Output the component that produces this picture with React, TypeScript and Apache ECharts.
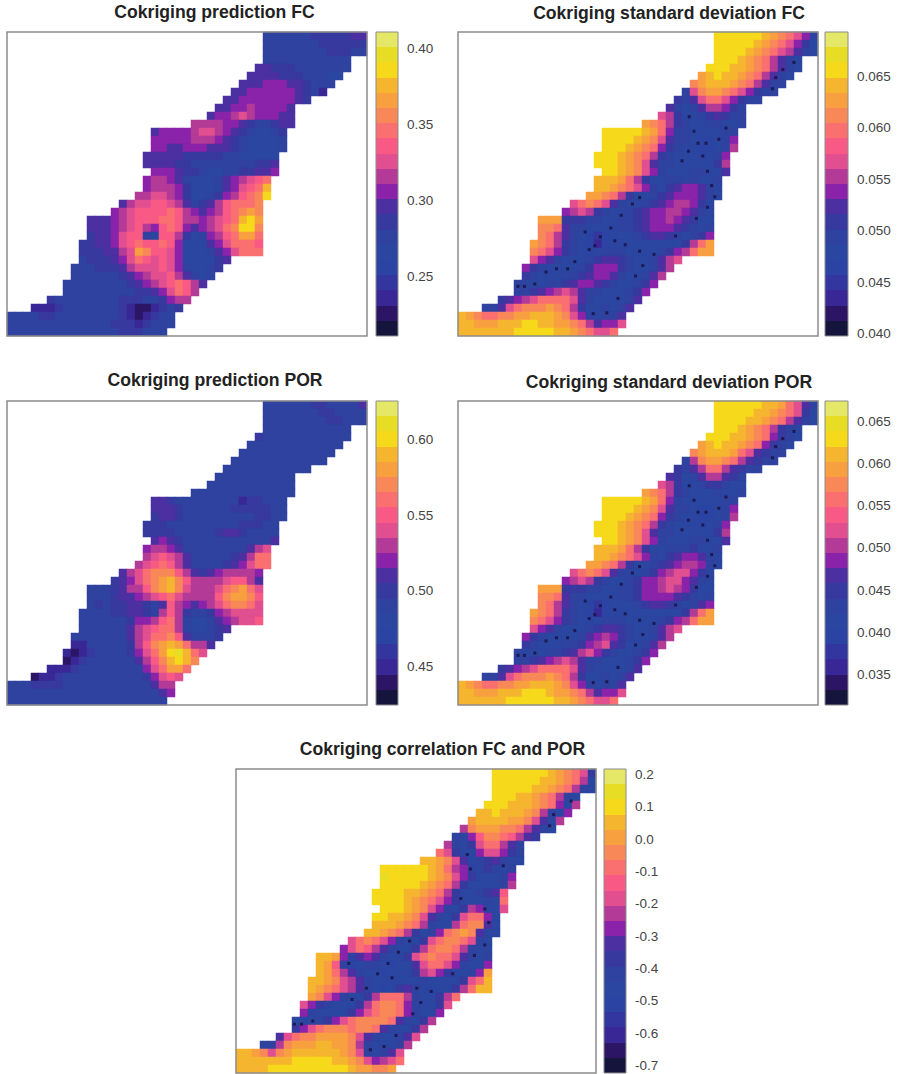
import React, { useEffect, useRef } from "react";
import * as echarts from "echarts";

const COLS = 45;
const ROWS = 38;
const LEVEL_CHARS = "abcdefghijklmnopqrst";
const BAND_COLORS = ["#14143c","#2c1565","#3a2796","#33369f","#2b44a3","#2b46a0","#2f429f","#37399f","#4c2fa0","#8a22aa","#b33a96","#e14f90","#f85a85","#fa6f6f","#f98858","#f8a040","#f5b52f","#f5d91a","#e8dd25","#e5e766"];
const ROW_START = [32,32,32,32,31,30,29,28,27,26,25,23,18,18,18,17,17,18,17,17,16,14,13,10,10,10,9,9,9,8,8,7,7,5,3,0,0,0];

const FC_PRED = [
"gggggghhhhhii","ggggggghhhhhh","gggggggghhhgg","ggggggggggg","iihhhggggggg","iiiihhhgggff","iiijjjiihggg","iijjjjjjihgc","iijjjjjjjih","iijjkjjjji","ijjklkjjjii","kkkkjjihgghii",
"ijjjjkllkjihgffgh","jjjjjkkkjihgffffg","jjiijjjiiihgffffg","iiiiihhhhhggfffff","iiiihhgggggggghhi","jjjihhgffgghhiij","jkkjigfffgijklmn","jkkkjhfffgijlmnq","kkllkjhffghjkmnor","ikllmmlkighikmnnno","jklmmmmnmkjijkmnopo",
"iiijklmmmnnmkkjklmnqrp","iiijklmkjmnmjijklnorro","hiijlmmgfmmkhfgjkmnppn","hhiijlmnmmnmjfffijlnnnm","hhhiiklpommljfffgijlnnn","ghhhijlnmlmljffffhi","ggghhhiklllmljgffgh","gggggghijkllmkigfg","gggggggghijklmnmki","ggggggggghhijlnmk","hgggggggghhhgghjkk","ccchggggggghcbbchgh","gggghhgggggggghcbchgg","ggggggggggggghhhchggg","gggggggggggggghhhggg"];

const FC_SD = [
"rrrrrrqponljg","rrrrrqponljhf","rrrrqponlkigf","rrrqponkigf","rrrqqponkigf","pqrqqponkigf","opqqqponkigg","glopponljhgg","hgilnnljhgg","igfgikkjhg","lkhffghihgg","ponkhgffggffg",
"rrrrrqpnjggffffgg","rrrrqpoliggfeefgj","rrrqponjhgffeefgk","rrrqponkhgfffefgj","rrrqpoliggfffffhk","rrqpoljgfffggffi","qqqpnkhffggggffg","qqponljgfhijjigf","pponkhffghijjjigf","lnonligffghijkkjhf","jklkhgffghijjkkjigf",
"ppphhhggffgghijjkjihff","ooniggfffegghijjjihgfg","onkigfedefffghiihgfghj","ponkhgfecefffffffffhknp","onljhgfefgggffffghjknpp","ljigfffghiihgffgikl","jhgffffghjjjhgffgik","hgfffgghijjigffgik","gfffgghijjihgffghj","gghijklkiggfffghj","hijklnnnnligffffgi","ggilnoooponkhffgfgi","qponnooppqqqpoljgfggi","qqpppqqqrrqqpponkijjl","qqqqqqqrrrrrqqponlln"];

const POR_PRED = [
"gggggghhggggi","ggggggghhgggg","gggggggghhggg","ggggggggggg","hggggggggggg","gggggggggggg","gggggggggggg","gggggggggggg","ggggggggggg","gggggggggg","ggggggggggg","ggggggggggggg",
"iihggggggggchhggg","iiihgggggghhhhhgg","hiihggggggggghhgg","hhhggggggggghhhgg","hhhhggggghiihgggg","ijihgggggggggggi","jkkjiggggggggikl","klmlkiggggghiknn","klmnmkigggghijlnn","iklnooomkihijkkkkj","hijlnopqomkkkklmmki",
"ggghikkmopqolkkklnopnl","ggghiijklmnlkkkkmoppom","ghghhiihgimkjijklnoonl","gggghhiihgkmkhgghjkllll","gggggghjjkmnkgffgijkllm","ggggggiklmnnkgffghi","gggggggiklnnomigggh","ccggggghkmopqpnkki","cbchgggghjlnprsqnl","bchggggggikmoqrqo","ccchggggggggjlnppn","bcchgggggggggghjlml","ggghhhhgggggggggggikk","gggggggggggggggggggij","gggggggggggggggggggg"];

const POR_SD = [
"rrrrrrqqpnlig","rrrrrqqponlhf","rrrrqqponkigf","rrrqponkhgf","rrrqqponjhgf","pqrqqponjhgf","opqqqpnlihgg","gkopponkihgg","hgiknnkihgg","ihfgikkihg","lkhffghhgff","ponkhgfffgffg",
"rrrrrqpnjgfffffgg","rrrrqpoliggfeefgj","rrrqponjhgffeefgk","rrrqponkhgfffefgj","rrrqpoliggfffffhk","rrqpoljgfffggffi","qqqpnkhffggghffg","qqponljgfhijjigf","pponkhffghijkkjgf","lnonligffghjklljhf","jklkhgffghjjklljigf",
"ppphhhggffgghjjklkjhff","ooniggfffegghjjjjihgfg","onkigfedefffghiihgfgij","ponkhgfecefffffffffhknp","onljhgfefgggffffghjknpp","ljigfffghiihgffgikl","jhgffffgijkjhgffgik","hgfffgghjklihffgik","gfffgghikljhgffghj","gghijklkiggfffghj","hijklnnnnligffffgi","ggilnoooponkhffgfgi","qponnooppqqqpoljgfggi","qqpppqqqrrrqpponkijjl","qqqqqqrrrrrrqqponlln"];

const CORR = [
"rrrrrrrqponlh","rrrrrrqqponkf","rrrrrqqponkgf","rrrqqponkgf","rrrqqqponjfk","qqrqqqpokgfj","pqqqqppolifk","kopppoonkigf","gfjmoonmkih","kgfhlnnkig","nlhffjlljhg","qqpolifghigff",
"rrrrrrqpnkjgfhgfg","srrrrrqpoljhfffgj","rrrrrqponkhffffgk","rrrrqqponkhffghim","rrrrqponljhfffgfn","rrrqpoljgfhkjffl","rrqqpoligfhlnnjf","qqqponkgffknooif","qqponkhfgjnopoiff","lnonljgffhlnoonlgf","jlnmkigffhknoonkgff",
"qqpjgijigffhlnonnligfg","qpmgefggfeffilnnljgffj","qpnkigffefffhkljhffgjp","qqpolkigffffffgffffhlnq","qponlkigfefhigfeffhknqq","poljgffhknnnkgffhkn","ljhgfffhknoonjgffhl","jgffffhjlnoonjgffj","fffghjlnoooonigfhk","hjlnooonoonigffhk","ilnooppppoligffgil","ggkopppqqppokgfffgk","qqpolopqqqqqqpolgfgil","qqqqqqqrrrrrqqpoljkln","qqqqrrrrrrrrrrqppoop"];

const SAMPLE_X = [42.0,40.6,39.7,39.3,28.9,29.5,33.5,32.6,30.0,31.0,28.8,28.0,30.6,31.2,31.7,32.1,31.2,29.8,27.2,24.5,22.7,23.1,22.2,20.0,22.7,21.8,20.4,19.1,15.9,17.8,19.6,20.9,17.1,16.4,14.6,13.7,12.3,11.0,9.6,8.3,7.5,18.6,16.9];
const SAMPLE_Y = [3.8,4.7,5.7,7.1,10.6,12.4,12.0,13.4,13.9,13.9,14.9,16.1,15.5,17.4,19.2,20.6,21.9,23.3,25.5,27.8,27.4,29.2,30.5,33.3,20.7,21.5,22.9,24.5,25.0,25.6,26.1,26.6,26.7,27.2,28.7,29.6,29.6,30.0,31.5,31.8,31.8,35.1,35.2];
const CORR_SAMPLE_X = [41.9,39.7,39.2,28.9,29.3,33.4,28.1,31.1,31.6,31.1,29.8,27.1,24.4,22.6,23.1,22.1,20.0,18.5,16.8,21.7,20.3,19.0,14.1,17.7,19.5,16.3,14.5,9.6,8.2,7.3];
const CORR_SAMPLE_Y = [4.0,5.7,7.1,10.7,12.5,12.1,16.2,17.5,19.2,22.0,23.3,25.6,27.8,27.4,29.2,30.6,33.3,34.7,35.1,21.5,22.9,24.3,24.3,25.6,26.1,27.4,28.8,31.5,31.9,31.9];

const TICKS_FC_PRED = [0.25,0.30,0.35,0.40];
const TICKS_FC_SD = [0.040,0.045,0.050,0.055,0.060,0.065];
const TICKS_POR_PRED = [0.45,0.50,0.55,0.60];
const TICKS_POR_SD = [0.035,0.040,0.045,0.050,0.055,0.060,0.065];
const TICKS_CORR = [-0.7,-0.6,-0.5,-0.4,-0.3,-0.2,-0.1,0.0,0.1,0.2];

const PANELS = [
  { title: "Cokriging prediction FC", tx: 214.5, ty: 12, rows: FC_PRED, lo: 0.211, hi: 0.4105, ticks: TICKS_FC_PRED, dec: 2, map: [7, 32], bar: [376, 22], sx: [], sy: [] },
  { title: "Cokriging standard deviation FC", tx: 669, ty: 13, rows: FC_SD, lo: 0.0398, hi: 0.0693, ticks: TICKS_FC_SD, dec: 3, map: [458, 32], bar: [825, 23], sx: SAMPLE_X, sy: SAMPLE_Y },
  { title: "Cokriging prediction POR", tx: 215, ty: 380, rows: POR_PRED, lo: 0.4247, hi: 0.6253, ticks: TICKS_POR_PRED, dec: 2, map: [7, 401], bar: [376, 22], sx: [], sy: [] },
  { title: "Cokriging standard deviation POR", tx: 669, ty: 382, rows: POR_SD, lo: 0.0314, hi: 0.0674, ticks: TICKS_POR_SD, dec: 3, map: [458, 401], bar: [825, 23], sx: SAMPLE_X, sy: SAMPLE_Y },
  { title: "Cokriging correlation FC and POR", tx: 442.5, ty: 749, rows: CORR, lo: -0.7235, hi: 0.2176, ticks: TICKS_CORR, dec: 1, map: [236, 769], bar: [604, 22], sx: CORR_SAMPLE_X, sy: CORR_SAMPLE_Y },
];

const FONT = '"Liberation Sans", Arial, sans-serif';
const MAP_W = 360;
const MAP_H = 304;

function buildOption() {
  const grids: any[] = [];
  const xAxes: any[] = [];
  const yAxes: any[] = [];
  const heat: any[] = [];
  const rest: any[] = [];
  const visualMaps: any[] = [];
  const colIdx = Array.from({ length: COLS }, (_, i) => String(i));
  const rowIdx = Array.from({ length: ROWS }, (_, i) => String(i));

  PANELS.forEach((p, i) => {
    const [mx, my] = p.map;
    const [bx, bw] = p.bar;
    const step = (p.hi - p.lo) / BAND_COLORS.length;
    const data: number[][] = [];
    p.rows.forEach((row, r) => {
      for (let k = 0; k < row.length; k++) {
        const lvl = LEVEL_CHARS.indexOf(row[k]);
        if (lvl >= 0) data.push([ROW_START[r] + k, r, p.lo + (lvl + 0.5) * step]);
      }
    });

    const base = grids.length;
    grids.push({ left: mx, top: my, width: MAP_W, height: MAP_H, show: true, backgroundColor: "#fff", borderWidth: 0, z: 0 });
    xAxes.push({ type: "category", gridIndex: base, data: colIdx, show: false });
    yAxes.push({ type: "category", gridIndex: base, data: rowIdx, inverse: true, show: false });
    heat.push({
      type: "heatmap", xAxisIndex: base, yAxisIndex: base, data,
      progressive: 0, silent: true, itemStyle: { borderWidth: 0 },
    });
    visualMaps.push({
      type: "piecewise", show: false, seriesIndex: i, dimension: 2,
      pieces: BAND_COLORS.map((color, b) => ({ gte: p.lo + b * step, lt: p.lo + (b + 1) * step, color })),
    });

    grids.push({ left: mx, top: my, width: MAP_W, height: MAP_H, show: true, backgroundColor: "transparent", borderColor: "#8c8c8c", borderWidth: 1.5, z: 10 });
    xAxes.push({ type: "value", gridIndex: base + 1, min: 0, max: COLS, show: false });
    yAxes.push({ type: "value", gridIndex: base + 1, min: 0, max: ROWS, inverse: true, show: false });
    rest.push({
      type: "scatter", xAxisIndex: base + 1, yAxisIndex: base + 1, symbol: "rect", symbolSize: 3, silent: true,
      itemStyle: { color: "#1a1245", opacity: 0.85 }, z: 4,
      data: p.sx.map((x: number, k: number) => [x, p.sy[k]]),
    });

    grids.push({ left: bx, top: my, width: bw, height: MAP_H, show: true, backgroundColor: "transparent", borderColor: "#8c8c8c", borderWidth: 1, z: 10 });
    xAxes.push({ type: "value", gridIndex: base + 2, min: 0, max: 1, show: false });
    yAxes.push({
      type: "value", gridIndex: base + 2, min: p.lo, max: p.hi, position: "right",
      splitLine: { show: false }, axisLine: { show: false },
      axisTick: { show: true, length: 5, customValues: p.ticks, lineStyle: { color: "#666", width: 1 } },
      axisLabel: {
        show: true, customValues: p.ticks, margin: 9, color: "#444", fontSize: 13.5, fontFamily: FONT,
        formatter: (v: number) => Number(v).toFixed(p.dec),
      },
    });
    rest.push({
      type: "custom", xAxisIndex: base + 2, yAxisIndex: base + 2, silent: true, clip: false,
      encode: { x: 0, y: [1, 2] },
      data: BAND_COLORS.map((_, b) => [0, p.lo + b * step, p.lo + (b + 1) * step, b]),
      renderItem: (_: any, api: any) => {
        const a = api.coord([0, api.value(1)]);
        const c = api.coord([1, api.value(2)]);
        const top = Math.round(c[1]);
        const bottom = Math.round(a[1]);
        return { type: "rect", shape: { x: a[0], y: top, width: c[0] - a[0], height: bottom - top }, style: { fill: BAND_COLORS[api.value(3)] } };
      },
    });
  });

  return {
    animation: false,
    backgroundColor: "#fff",
    title: PANELS.map((p) => ({
      text: p.title, left: p.tx, top: p.ty, textAlign: "center", textVerticalAlign: "middle",
      textStyle: { fontFamily: FONT, fontWeight: "bold", fontSize: 17.6, color: "#222" },
      padding: 0,
    })),
    grid: grids,
    xAxis: xAxes,
    yAxis: yAxes,
    visualMap: visualMaps,
    series: [...heat, ...rest],
  };
}

export default function App() {
  const ref = useRef<HTMLDivElement>(null);
  useEffect(() => {
    document.body.style.margin = "0";
    const chart = echarts.init(ref.current!, undefined, { renderer: "svg" });
    chart.setOption(buildOption() as any);
    return () => chart.dispose();
  }, []);
  return <div ref={ref} style={{ position: "fixed", left: 0, top: 0, width: 897, height: 1074 }} />;
}
